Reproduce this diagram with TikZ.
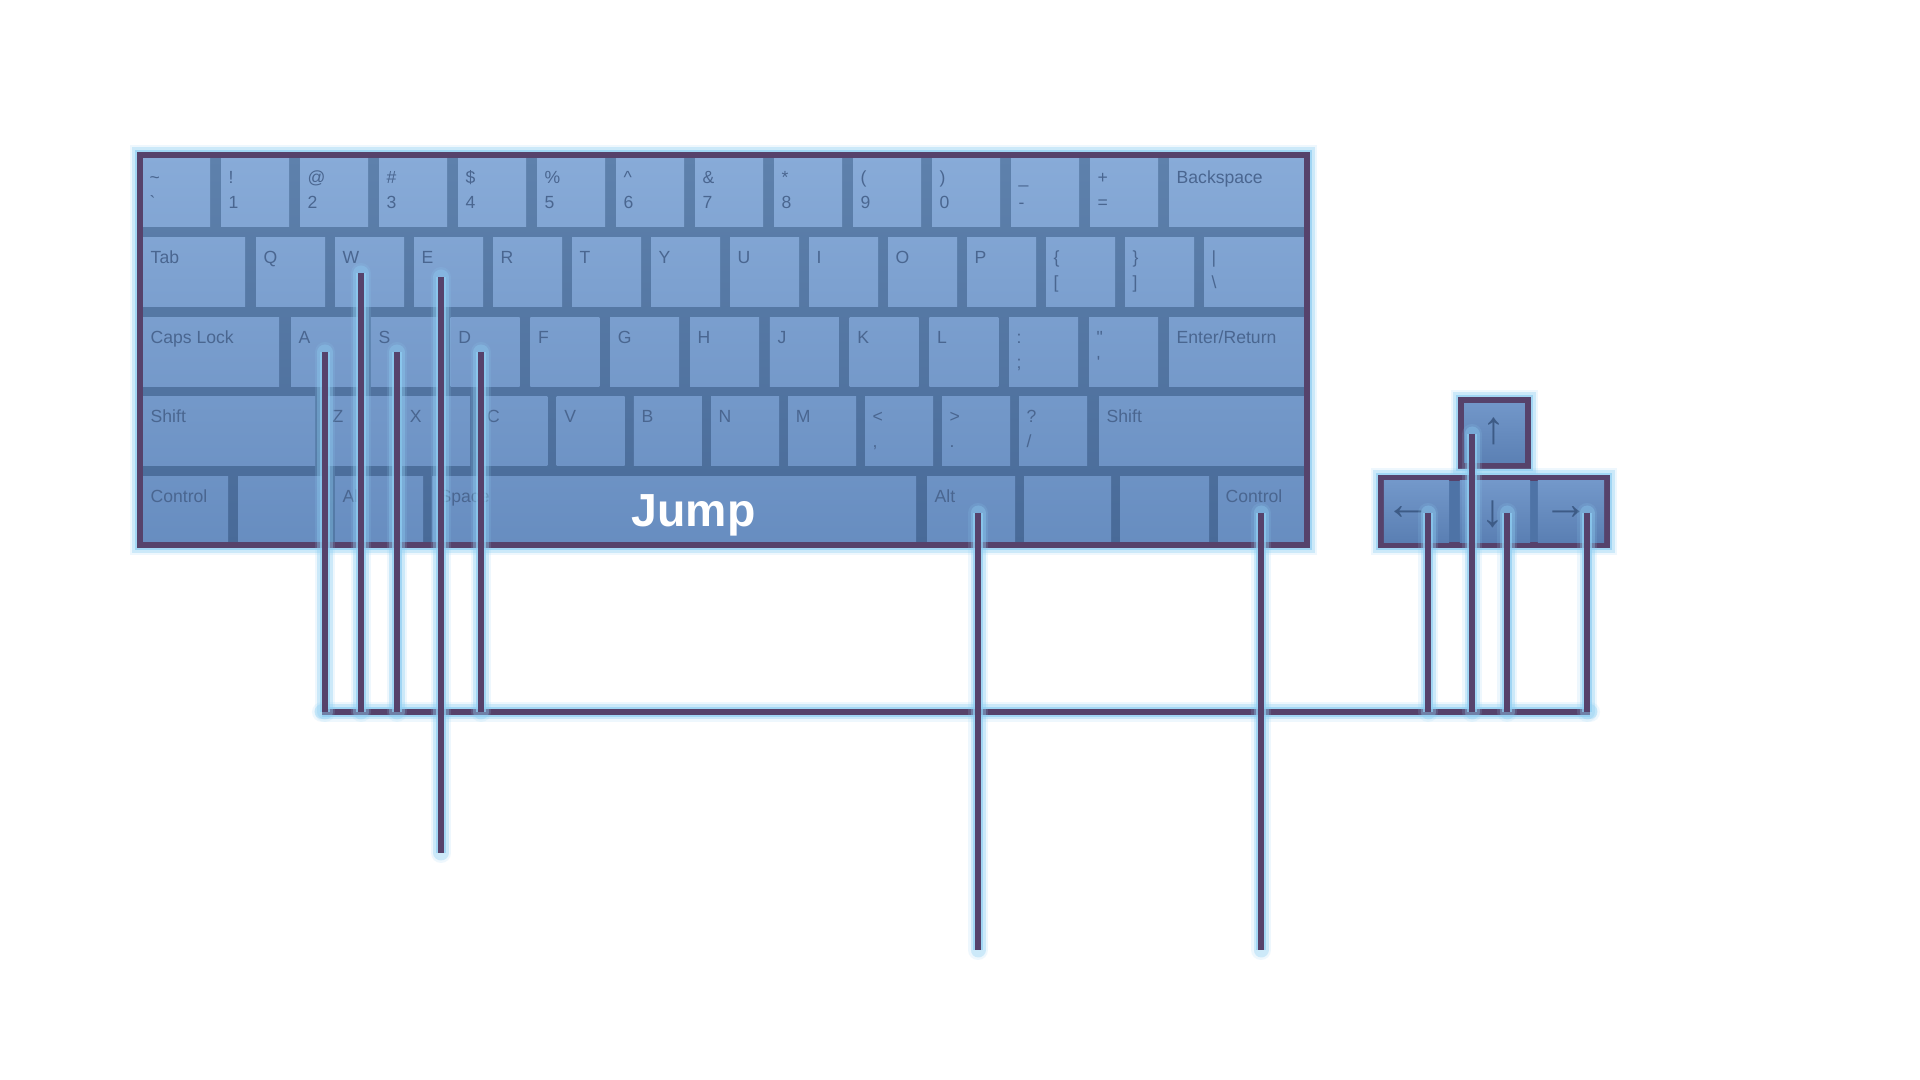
\documentclass[tikz,border=0pt]{standalone}
\usepackage{fontspec}
\setmainfont{Liberation Sans}

\definecolor{wire}{HTML}{56426B}
\definecolor{glow}{HTML}{8FCFF3}
\definecolor{gaptop}{HTML}{5E81AC}
\definecolor{gapbot}{HTML}{486A98}
\definecolor{keytop}{HTML}{88ABD8}
\definecolor{keybot}{HTML}{678DC0}
\definecolor{keytext}{HTML}{4A6690}
\definecolor{padtop}{HTML}{7398CA}
\definecolor{padbot}{HTML}{5A7FB3}
\definecolor{padgap}{HTML}{4E73A6}
\definecolor{arrowtext}{HTML}{3D5B86}

\tikzset{
  glowing/.style={
    preaction={draw=glow, line width=2.0mm, opacity=.15, line cap=round},
    preaction={draw=glow, line width=1.5mm, opacity=.35, line cap=round},
    preaction={draw=glow, line width=1.0mm, opacity=.7}},
  wireline/.style={glowing, draw=wire, line width=0.6mm},
  frame/.style={glowing, draw=wire, line width=0.6mm, rectangle, inner sep=0pt, outer sep=0pt},
  keybox/.style={rectangle, inner sep=0pt, outer sep=0pt, minimum height=0.68cm,
    path picture={\shade[top color=keytop, bottom color=keybot] (kb.north west) rectangle (kb.south east);}},
  keylbl/.style={anchor=base west, inner sep=0pt, text=keytext, font=\fontsize{5}{6}\selectfont},
  padkey/.style={rectangle, inner sep=0pt, outer sep=0pt, top color=padtop, bottom color=padbot},
  padsign/.style={inner sep=0pt, text=arrowtext, font=\fontsize{13}{15}\selectfont},
}

\newcommand\kbkey[6]{%
  \node[keybox, minimum width=#4*0.01cm] (#1) at ({#2+#4/2},{#3+34}) {};
  \if\relax\detokenize{#5}\relax\else\node[keylbl] (#1u) at ({#2+7},{#3+26}) {#5};\fi
  \if\relax\detokenize{#6}\relax\else\node[keylbl] (#1l) at ({#2+7},{#3+51}) {#6};\fi
}

\begin{document}
\begin{tikzpicture}[x=0.01cm, y=-0.01cm]
  \useasboundingbox (0,0) rectangle (1920,1080);
  \fill[white] (0,0) rectangle (1920,1080);

  \node[glowing, rectangle, inner sep=0pt, outer sep=0pt, top color=gaptop, bottom color=gapbot,
    minimum width=11.67cm, minimum height=3.9cm] (kb) at (723.5,350) {};

  \foreach \u/\l [count=\i from 0] in {\textasciitilde/\textasciigrave, !/1, @/2, \#/3, \$/4, \%/5,
      \textasciicircum/6, \&/7, */8, {(}/9, {)}/0, \_/-, +/=}
    {\kbkey{n\i}{142+79*\i}{158}{68}{\u}{\l}}
  \kbkey{back}{1169}{158}{135}{Backspace}{}

  \kbkey{tab}{143}{238}{102}{Tab}{}
  \foreach \u [count=\i from 0] in {Q,W,E,R,T,Y,U,I,O,P}
    {\kbkey{k\u}{256+79*\i}{238}{69}{\u}{}}
  \kbkey{lbrace}{1046}{238}{69}{\{}{[}
  \kbkey{rbrace}{1125}{238}{69}{\}}{]}
  \kbkey{bslash}{1204}{238}{100}{\textbar}{\textbackslash}

  \kbkey{caps}{143}{318}{136}{Caps Lock}{}
  \foreach \u [count=\i from 0] in {A,S,D,F,G,H,J,K,L}
    {\kbkey{k\u}{291+79.8*\i}{318}{69}{\u}{}}
  \kbkey{semi}{1009}{318}{69}{:}{;}
  \kbkey{quote}{1089}{318}{69}{\textquotedbl}{\textquotesingle}
  \kbkey{enter}{1169}{318}{135}{Enter/Return}{}

  \kbkey{shiftL}{143}{397}{172}{Shift}{}
  \foreach \u [count=\i from 0] in {Z,X,C,V,B,N,M}
    {\kbkey{k\u}{325+77.2*\i}{397}{68}{\u}{}}
  \kbkey{comma}{865}{397}{68}{<}{,}
  \kbkey{period}{942}{397}{68}{>}{.}
  \kbkey{slash}{1019}{397}{68}{?}{/}
  \kbkey{shiftR}{1099}{397}{205}{Shift}{}

  \kbkey{ctrlL}{143}{477}{85}{Control}{}
  \kbkey{winL}{238}{477}{87}{}{}
  \kbkey{altL}{335}{477}{88}{Alt}{}
  \kbkey{space}{432}{477}{484}{Space}{}
  \kbkey{altR}{927}{477}{88}{Alt}{}
  \kbkey{winR}{1024}{477}{87}{}{}
  \kbkey{menu}{1120}{477}{89}{}{}
  \kbkey{ctrlR}{1218}{477}{86}{Control}{}

  \draw[draw=wire, line width=0.6mm] (kb.north west) rectangle (kb.south east);
  \node[anchor=base west, inner sep=0pt, text=white, font=\fontsize{13.2}{16}\selectfont\bfseries]
    (jump) at (631,527) {Jump};

  \node[frame, top color=padtop, bottom color=padbot, minimum width=0.67cm, minimum height=0.66cm]
    (kUp) at (1494.5,433) {};
  \node[padsign] (upsign) at (1494,431) {↑};
  \node[frame, fill=padgap, minimum width=2.26cm, minimum height=0.67cm] (pad) at (1494,511.5) {};
  \node[padkey, minimum width=0.65cm, minimum height=0.61cm] (kLeft) at (1416.5,511.5) {};
  \node[padkey, minimum width=0.70cm, minimum height=0.61cm] (kDown) at (1495,511.5) {};
  \node[padkey, minimum width=0.66cm, minimum height=0.61cm] (kRight) at (1571,511.5) {};
  \node[padsign] (leftsign) at (1408,513) {←};
  \node[padsign] (downsign) at (1493,514) {↓};
  \node[padsign] (rightsign) at (1566,513) {→};

  \coordinate (busL) at (322,712);
  \coordinate (busR) at (1590,712);
  \coordinate (tA) at (325,352);
  \coordinate (tW) at (361,273);
  \coordinate (tS) at (397,352);
  \coordinate (tE) at (441,277);
  \coordinate (tD) at (481,352);
  \coordinate (tAlt) at (978,513);
  \coordinate (tCtrl) at (1261,513);
  \coordinate (tLeft) at (1428,513);
  \coordinate (tUp) at (1472,434);
  \coordinate (tDown) at (1507,513);
  \coordinate (tRight) at (1587,513);
  \coordinate (eE) at (441,853);
  \coordinate (eAlt) at (978,950);
  \coordinate (eCtrl) at (1261,950);

  \draw[wireline] (busL) -- (busR);
  \foreach \t in {tA,tW,tS,tD,tLeft,tUp,tDown,tRight}
    \draw[wireline] (\t) -- (\t |- busL);
  \draw[wireline] (tE) -- (eE);
  \draw[wireline] (tAlt) -- (eAlt);
  \draw[wireline] (tCtrl) -- (eCtrl);
\end{tikzpicture}
\end{document}
